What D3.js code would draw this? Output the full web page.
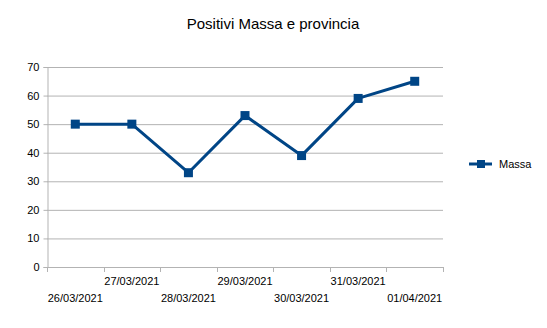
<!DOCTYPE html>
<html>
<head>
<meta charset="utf-8">
<script src="https://cdn.jsdelivr.net/npm/d3@7"></script>
<style>
  body { margin: 0; background: #fff; }
  text { font-family: "Liberation Sans", Arial, sans-serif; fill: #000; }
</style>
</head>
<body>
<div id="chart"></div>
<script>
const width = 547;
const height = 328;
const margin = { top: 67, right: 104, bottom: 61, left: 47 };

const dates = ["26/03/2021", "27/03/2021", "28/03/2021", "29/03/2021", "30/03/2021", "31/03/2021", "01/04/2021"];
const massa = [50, 50, 33, 53, 39, 59, 65];
const yTicks = [0, 10, 20, 30, 40, 50, 60, 70];
const color = "#004586";

const svg = d3.select("#chart").append("svg")
  .attr("width", width)
  .attr("height", height);

const x = d3.scaleBand()
  .domain(dates)
  .range([margin.left, width - margin.right]);

const y = d3.scaleLinear()
  .domain([0, 70])
  .range([height - margin.bottom, margin.top]);

// Title
svg.append("text")
  .attr("x", 273)
  .attr("y", 29)
  .attr("text-anchor", "middle")
  .style("font-size", "15px")
  .text("Positivi Massa e provincia");

// Grid lines
svg.append("g")
  .selectAll("line")
  .data(yTicks)
  .join("line")
  .attr("x1", margin.left)
  .attr("x2", width - margin.right)
  .attr("y1", d => y(d) + 0.5)
  .attr("y2", d => y(d) + 0.5)
  .attr("stroke", "#b3b3b3")
  .attr("stroke-width", 1);

// Y axis
const yAxis = svg.append("g")
  .attr("transform", `translate(${margin.left + 0.5},0)`)
  .call(d3.axisLeft(y).tickValues(yTicks).tickSize(4).tickPadding(4));
yAxis.select(".domain").attr("stroke", "#b3b3b3");
yAxis.selectAll(".tick line").attr("stroke", "#b3b3b3");
yAxis.selectAll(".tick text")
  .style("font-size", "11px")
  .style("font-family", "Liberation Sans, Arial, sans-serif")
  .attr("fill", "#000");

// X axis: ticks at band boundaries
const xAxisG = svg.append("g");
const bounds = dates.map(d => x(d)).concat([x.range()[1]]);
xAxisG.selectAll("line")
  .data(bounds)
  .join("line")
  .attr("x1", d => Math.round(d) + 0.5)
  .attr("x2", d => Math.round(d) + 0.5)
  .attr("y1", y(0))
  .attr("y2", y(0) + 5)
  .attr("stroke", "#b3b3b3");
xAxisG.append("line")
  .attr("x1", margin.left)
  .attr("x2", width - margin.right)
  .attr("y1", y(0) + 0.5)
  .attr("y2", y(0) + 0.5)
  .attr("stroke", "#b3b3b3");
xAxisG.selectAll("text")
  .data(dates)
  .join("text")
  .attr("x", d => x(d) + x.bandwidth() / 2)
  .attr("y", (d, i) => y(0) + (i % 2 === 0 ? 35 : 18))
  .attr("text-anchor", "middle")
  .style("font-size", "11px")
  .text(d => d);

// Line
const line = d3.line()
  .x((d, i) => x(dates[i]) + x.bandwidth() / 2)
  .y(d => y(d));

svg.append("path")
  .datum(massa)
  .attr("d", line)
  .attr("fill", "none")
  .attr("stroke", color)
  .attr("stroke-width", 3)
  .attr("stroke-linejoin", "round");

// Markers
svg.append("g")
  .selectAll("rect")
  .data(massa)
  .join("rect")
  .attr("x", (d, i) => x(dates[i]) + x.bandwidth() / 2 - 4.5)
  .attr("y", d => y(d) - 4.5)
  .attr("width", 9)
  .attr("height", 9)
  .attr("fill", color);

// Legend
const legend = svg.append("g").attr("transform", "translate(469,164)");
legend.append("line")
  .attr("x1", 0).attr("x2", 23)
  .attr("y1", 0).attr("y2", 0)
  .attr("stroke", color)
  .attr("stroke-width", 3);
legend.append("rect")
  .attr("x", 8).attr("y", -4)
  .attr("width", 8).attr("height", 8)
  .attr("fill", color);
legend.append("text")
  .attr("x", 30)
  .attr("y", 4)
  .style("font-size", "11px")
  .text("Massa");
</script>
</body>
</html>
